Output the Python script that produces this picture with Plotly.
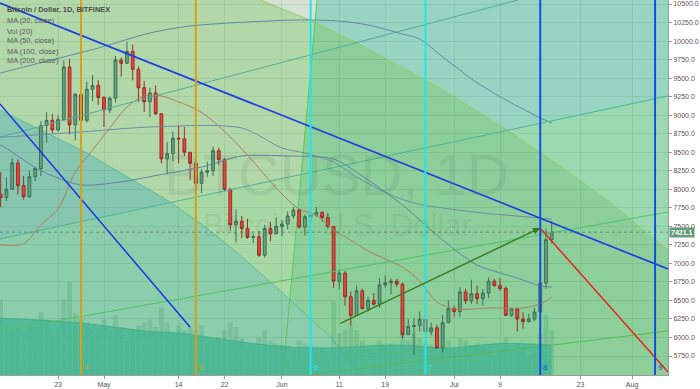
import pandas as pd
import plotly.graph_objects as go

# ---------------- data ----------------
dates = pd.date_range("2018-04-13", "2018-07-18", freq="D")

opens = [7930, 7890, 8000, 8355, 8050, 7900, 8170, 8280, 8860, 8930,
         8800, 8940, 9650, 8870, 9280, 8930, 9350, 9400,
         9240, 9070, 9230, 9745, 9700, 9860, 9620, 9370, 9180, 9300,
         9020, 8410, 8480, 8690, 8680, 8500, 8350, 8080, 8230, 8250,
         8520, 8400, 8000, 7520, 7570, 7470, 7350, 7360, 7110, 7470, 7400,
         7500, 7530, 7640, 7720, 7490, 7630, 7650, 7690, 7620, 7500,
         6760, 6870, 6550, 6300, 6630, 6390, 6500, 6450, 6710, 6740,
         6760, 6720, 6040, 6150, 6160, 6245, 6080, 6130, 5860, 6200,
         6390, 6350, 6615, 6495, 6590, 6525, 6600, 6760, 6700, 6660,
         6300, 6385, 6250, 6215, 6250, 6345, 6735, 7320]
highs = [8230, 8160, 8420, 8400, 8180, 8250, 8300, 8920, 9040, 9020,
         9000, 9740, 9760, 9300, 9400, 9450, 9540, 9470,
         9250, 9250, 9800, 9780, 9990, 9950, 9660, 9460, 9370, 9400,
         9020, 8640, 8780, 8860, 8840, 8500, 8480, 8270, 8370, 8580,
         8560, 8420, 8020, 7730, 7640, 7600, 7400, 7440, 7520, 7560, 7620,
         7580, 7700, 7760, 7740, 7660, 7700, 7760, 7700, 7680, 7500,
         6920, 6900, 6620, 6700, 6660, 6550, 6600, 6800, 6840, 6800,
         6790, 6740, 6250, 6260, 6350, 6280, 6200, 6170, 6300, 6500,
         6430, 6680, 6660, 6780, 6700, 6650, 6810, 6790, 6800, 6690,
         6400, 6400, 6340, 6320, 6400, 6760, 7470, 7570]
lows = [7760, 7840, 7990, 7930, 7860, 7880, 8110, 8180, 8630, 8760,
        8780, 8920, 8740, 8660, 8920, 8900, 9190, 9140,
        8840, 9030, 9170, 9520, 9690, 9470, 9180, 9040, 8970, 9000,
        8350, 8200, 8380, 8350, 8450, 8120, 8040, 7950, 8170, 8180,
        8330, 7970, 7440, 7280, 7340, 7330, 7270, 7090, 7080, 7300, 7400,
        7370, 7460, 7600, 7470, 7380, 7520, 7630, 7560, 7470, 6670,
        6650, 6430, 6150, 6300, 6380, 6350, 6430, 6400, 6670, 6580,
        6680, 5990, 6030, 5765, 6080, 6050, 6030, 5850, 5800, 6190,
        6280, 6280, 6450, 6450, 6450, 6430, 6530, 6680, 6630, 6290,
        6280, 6080, 6120, 6200, 6220, 6330, 6660, 7270]
closes = [7890, 8000, 8355, 8050, 7900, 8170, 8280, 8860, 8930, 8800,
          8940, 9650, 8870, 9280, 8930, 9350, 9400, 9240,
          9070, 9230, 9745, 9700, 9860, 9620, 9370, 9180, 9300, 9020,
          8410, 8480, 8690, 8680, 8500, 8350, 8080, 8230, 8250, 8520,
          8400, 8000, 7520, 7570, 7470, 7350, 7360, 7110, 7470, 7400, 7500,
          7530, 7640, 7720, 7490, 7630, 7650, 7690, 7620, 7500, 6760,
          6870, 6550, 6300, 6630, 6390, 6500, 6450, 6710, 6740, 6760,
          6720, 6040, 6150, 6160, 6245, 6080, 6130, 5860, 6200, 6390,
          6350, 6615, 6495, 6590, 6525, 6600, 6760, 6700, 6660, 6300,
          6385, 6250, 6215, 6250, 6345, 6735, 7320, 7421.1]
volume = [50, 33, 30, 32, 30, 33, 37, 42, 37, 27,
          32, 50, 62, 41, 37, 35, 30, 32, 37, 30,
          40, 32, 25, 30, 33, 35, 37, 32, 45, 35,
          28, 33, 30, 32, 30, 33, 21, 23, 25, 30,
          35, 32, 25, 19, 17, 25, 30, 23, 21, 20,
          19, 17, 23, 21, 20, 19, 17, 16, 49, 28,
          30, 32, 30, 23, 17, 15, 23, 20, 21, 17,
          43, 23, 28, 25, 21, 20, 25, 35, 23, 15,
          25, 23, 20, 21, 19, 17, 13, 17, 25, 20,
          21, 19, 13, 15, 28, 40, 30]

volma_dates = ["2018-04-12", "2018-04-26", "2018-05-09", "2018-05-14", "2018-05-23",
               "2018-06-01", "2018-06-09", "2018-06-21", "2018-06-30", "2018-07-09", "2018-07-18"]
volma_vals = [38, 35, 29, 28, 23, 19, 18, 20, 18, 21, 20]

ma20_dates = ["2018-04-12", "2018-04-13", "2018-04-17", "2018-04-20", "2018-04-23", "2018-04-26",
              "2018-04-29", "2018-05-02", "2018-05-05", "2018-05-08", "2018-05-11", "2018-05-14",
              "2018-05-17", "2018-05-20", "2018-05-23", "2018-05-26", "2018-05-29", "2018-06-01",
              "2018-06-04", "2018-06-07", "2018-06-10", "2018-06-13", "2018-06-16", "2018-06-19",
              "2018-06-22", "2018-06-25", "2018-06-28", "2018-07-01", "2018-07-04", "2018-07-07",
              "2018-07-10", "2018-07-13", "2018-07-16", "2018-07-18"]
ma20_vals = [7245, 7248, 7262, 7518, 7734, 8233, 8530, 8827, 9110, 9259, 9259, 9178,
             9083, 8921, 8705, 8462, 8193, 7936, 7734, 7653, 7450, 7315, 7167, 7059,
             6951, 6762, 6479, 6384, 6384, 6398, 6398, 6398, 6452, 6546]

ma50_dates = ["2018-04-12", "2018-04-13", "2018-04-20", "2018-04-27", "2018-05-04", "2018-05-11",
              "2018-05-18", "2018-05-25", "2018-06-02", "2018-06-10", "2018-06-16", "2018-06-22",
              "2018-06-29", "2018-07-05", "2018-07-12", "2018-07-16", "2018-07-18"]
ma50_vals = [8610, 8597, 8250, 8060, 8100, 8200, 8300, 8449, 8449, 8408, 8125, 7788,
             7315, 6978, 6803, 6695, 6681]

ma100_dates = ["2018-04-12", "2018-04-13", "2018-04-27", "2018-05-09", "2018-05-25", "2018-06-01",
               "2018-06-05", "2018-06-10", "2018-06-14", "2018-06-20", "2018-06-24", "2018-06-29",
               "2018-07-06", "2018-07-16", "2018-07-18"]
ma100_vals = [8710, 8705, 8773, 8840, 8827, 8557, 8489, 8368, 8166, 7923, 7815, 7747,
              7680, 7612, 7599]

ma200_dates = ["2018-04-12", "2018-04-13", "2018-04-30", "2018-05-09", "2018-05-16", "2018-05-26",
               "2018-06-04", "2018-06-11", "2018-06-16", "2018-06-22", "2018-06-25", "2018-06-29",
               "2018-07-02", "2018-07-04", "2018-07-10", "2018-07-13", "2018-07-16", "2018-07-18"]
ma200_vals = [9545, 9569, 9906, 10109, 10203, 10257, 10284, 10270, 10217, 10095, 10028, 9785,
              9609, 9488, 9205, 9083, 8962, 8894]

x_tickvals = ["2018-04-23", "2018-05-01", "2018-05-14", "2018-05-22", "2018-06-01", "2018-06-11",
              "2018-06-19", "2018-07-01", "2018-07-09", "2018-07-23", "2018-08-01"]
x_ticktext = ["23", "May", "14", "22", "Jun", "11", "19", "Jul", "9", "23", "Aug"]
y_tickvals = [5750, 6000, 6250, 6500, 6750, 7000, 7250, 7500, 7750, 8000, 8250, 8500,
              8750, 9000, 9250, 9500, 9750, 10000, 10250, 10500]

last_price = 7421.1

legend_lines = ["Bitcoin / Dollar, 1D, BITFINEX", "MA (20, close)", "Vol (20)",
                "MA (50, close)", "MA (100, close)", "MA (200, close)"]

# visible window
XL, XR = "2018-04-12 21:10", "2018-08-07 06:12"
YB, YT = 5494, 10554

# drawings (date, price)
cycle_dates = ["2018-04-27", "2018-05-17", "2018-06-06", "2018-06-26", "2018-07-16", "2018-08-05"]
cycle_labels = ["4", "5", "6", "7", "8", "9"]

blue_trend = [(XL, 10513), (XR, 6924)]
blue_short = [(XL, 9151), ("2018-05-15 23:30", 6142)]
red_trend = [("2018-07-16 03:00", 7464), (XR, 5534)]
channel_a = [(XL, 8705), ("2018-07-12 03:00", YT)]
channel_b = [(XL, 7329), (XR, 9259)]
channel_c = [(XL, 6088), (XR, 7693)]
channel_d = [("2018-06-02 10:00", 5467), (XR, 6088)]
fan_ray = [("2018-06-07 03:00", YT), ("2018-06-01 04:00", YB)]
arrow_tail = ("2018-06-10 22:30", 6182)
arrow_tip = ("2018-07-15 23:00", 7477)

arc_upper = [("2018-05-28 04:00", YT), ("2018-06-05 21:00", 10284), ("2018-06-14 02:00", 9974),
             ("2018-06-28 13:00", 9366), ("2018-07-10 05:00", 8800), ("2018-07-15 23:00", 8503),
             ("2018-07-27 15:00", 7855), (XR, 7180)]
arc_lower = [(XL, 9070), ("2018-04-27 17:00", 8503), ("2018-05-11 23:30", 7855),
             ("2018-05-17 17:00", 7545), ("2018-05-23 11:00", 7194), ("2018-05-29 10:00", 6789),
             ("2018-06-04 04:00", 6384), ("2018-06-09 09:00", 6006), ("2018-06-14 14:00", 5521),
             ("2018-06-14 23:00", YB)]

zone_grey = [("2018-05-28 04:00", YT), ("2018-06-07 03:00", YT), ("2018-06-06 18:00", 10257),
             ("2018-06-05 21:00", 10284)]
zone_teal = [("2018-06-07 03:00", YT), (XR, YT), (XR, 9259), ("2018-07-10 05:00", 8800),
             ("2018-06-28 13:00", 9366), ("2018-06-14 02:00", 9974), ("2018-06-06 18:00", 10257)]
zone_mint = [("2018-07-10 05:00", 8800), (XR, 9259), (XR, 7180), ("2018-07-27 15:00", 7855),
             ("2018-07-15 23:00", 8503)]
zone_green = [("2018-06-06 18:00", 10257), ("2018-06-14 02:00", 9974), ("2018-06-28 13:00", 9366),
              ("2018-07-10 05:00", 8800), ("2018-07-15 23:00", 8503), ("2018-07-27 15:00", 7855),
              (XR, 7180), (XR, YB), ("2018-06-01 04:00", YB)]
zone_light = [("2018-05-12 12:00", 7828), ("2018-06-04 08:00", 8192), ("2018-06-02 10:00", 6533),
              ("2018-05-29 10:00", 6789), ("2018-05-23 11:00", 7194), ("2018-05-17 17:00", 7545)]
zone_lower = arc_lower + [(XL, YB)]
zone_lower_top = [(XL, 9070), ("2018-04-27 17:00", 8503), ("2018-05-11 23:30", 7855),
                  ("2018-05-12 12:00", 7828), (XL, 7329)]

# ---------------- helpers ----------------
T0, T1 = pd.Timestamp(XL), pd.Timestamp(XR)


def to_paper(pts):
    out = []
    for d, p in pts:
        fx = (pd.Timestamp(d) - T0) / (T1 - T0)
        fy = (p - YB) / (YT - YB)
        out.append((fx, fy))
    return out


def make_path(pts, close=True):
    pp = to_paper(pts)
    s = "M " + " L ".join(f"{x:.5f},{y:.5f}" for x, y in pp)
    return s + (" Z" if close else "")


FONT = "Liberation Sans, Arial, sans-serif"

fig = go.Figure()

# volume MA area + volume bars (main y axis)
fig.add_trace(go.Scatter(x=volma_dates, y=volma_vals, yaxis="y", mode="lines",
                         fill="tozeroy", fillcolor="rgba(62,180,146,0.72)",
                         line=dict(color="rgba(60,170,140,0.8)", width=1, shape="spline"),
                         hoverinfo="skip"))
fig.add_trace(go.Bar(x=dates, y=volume, yaxis="y",
                     marker=dict(color="rgba(40,140,110,0.2)", line=dict(width=0)),
                     hoverinfo="skip"))

# moving averages
for xs, ys, col in [(ma200_dates, ma200_vals, "#6289a6"),
                    (ma100_dates, ma100_vals, "#6a8fa8"),
                    (ma50_dates, ma50_vals, "#5f86a4"),
                    (ma20_dates, ma20_vals, "#b07f5c")]:
    fig.add_trace(go.Scatter(x=xs, y=ys, yaxis="y2", mode="lines",
                             line=dict(color=col, width=1, shape="spline", smoothing=0.8),
                             hoverinfo="skip"))

fig.add_trace(go.Candlestick(
    x=dates, open=opens, high=highs, low=lows, close=closes, yaxis="y2",
    increasing=dict(fillcolor="#64a27f", line=dict(color="#3f6e55", width=1)),
    decreasing=dict(fillcolor="#e6463b", line=dict(color="#9c2d24", width=1)),
    whiskerwidth=0, hoverinfo="skip"))

shapes = []
# background zones
for pts, col in [(zone_grey, "#d6e1d6"), (zone_teal, "#97d4c2"), (zone_mint, "#9bdab0"),
                 (zone_green, "#8ccf9a"), (zone_light, "#a8d9a5"), (zone_lower, "#8ccdab"),
                 (zone_lower_top, "#87c6b0")]:
    shapes.append(dict(type="path", xref="paper", yref="paper", path=make_path(pts),
                       fillcolor=col, line=dict(width=0), layer="below"))
shapes.append(dict(type="path", xref="paper", yref="paper", path=make_path(arc_upper, False),
                   line=dict(color="#96cc66", width=1), layer="below"))
shapes.append(dict(type="path", xref="paper", yref="paper", path=make_path(arc_lower[:-1], False),
                   line=dict(color="#5fbf9c", width=1), layer="below"))


def seg(pts, color, width, layer="above"):
    (a, pa), (b, pb) = pts
    return dict(type="line", xref="x", yref="y2", x0=a, y0=pa, x1=b, y1=pb,
                line=dict(color=color, width=width), layer=layer)


shapes.append(seg(fan_ray, "#5cc85c", 1, "below"))
shapes.append(seg(channel_a, "#58ab98", 1))
shapes.append(seg(channel_b, "#4cb596", 1))
shapes.append(seg(channel_c, "#52c06a", 1))
shapes.append(seg(channel_d, "#58b858", 1))
shapes.append(dict(type="line", xref="x", yref="y2", x0=XL, x1=XR, y0=last_price, y1=last_price,
                   line=dict(color="rgba(70,90,80,0.55)", width=1, dash="dot"), layer="above"))
shapes.append(seg(blue_trend, "#1d3fe0", 1.7))
shapes.append(seg(blue_short, "#1530e8", 1.4))
shapes.append(seg(red_trend, "#f01818", 1.4))

cycle_colors = ["#d6a01c", "#d6a01c", "#22e6ee", "#22e6ee", "#1450e0", "#1450e0"]
for d, c in zip(cycle_dates, cycle_colors):
    shapes.append(dict(type="line", xref="x", yref="paper", x0=d, x1=d, y0=0, y1=1,
                       line=dict(color=c, width=2), layer="above"))

annotations = []
# watermark
annotations.append(dict(xref="paper", yref="paper", x=0.503, y=0.536, text="BTCUSD, 1D",
                        showarrow=False, font=dict(family=FONT, size=58, color="rgba(70,95,80,0.11)")))
annotations.append(dict(xref="paper", yref="paper", x=0.505, y=0.40, text="Bitcoin / U.S. Dollar",
                        showarrow=False, font=dict(family=FONT, size=31, color="rgba(70,95,80,0.11)")))
# legend text
leg_y = [10, 20, 31, 41, 51, 61]
for i, (t, yy) in enumerate(zip(legend_lines, leg_y)):
    annotations.append(dict(xref="paper", yref="paper", x=0.008, y=1 - yy / 375,
                            xanchor="left", yanchor="middle", showarrow=False,
                            text=f"<b>{t}</b>" if i == 0 else t,
                            font=dict(family=FONT, size=7.4, color="#4d4d4d" if i == 0 else "#5a5a5a")))
# cycle labels
for d, c, lab in zip(cycle_dates, cycle_colors, cycle_labels):
    annotations.append(dict(xref="x", yref="paper", x=d, y=0.004, xanchor="left", yanchor="bottom",
                            xshift=1, showarrow=False, text=lab,
                            font=dict(family=FONT, size=8, color=c)))
# arrow
annotations.append(dict(xref="x", yref="y2", x=arrow_tip[0], y=arrow_tip[1],
                        axref="x", ayref="y2", ax=arrow_tail[0], ay=arrow_tail[1],
                        showarrow=True, arrowhead=2, arrowsize=1, arrowwidth=1.4,
                        arrowcolor="#3d7a1c", text=""))
# last price label
annotations.append(dict(xref="paper", yref="y2", x=1, y=last_price, xanchor="left", xshift=1,
                        showarrow=False, text=f"<b>{last_price:.1f}</b>", bgcolor="#629d7c",
                        borderpad=1, font=dict(family=FONT, size=7, color="white")))

GRID = "rgba(40,90,70,0.10)"
fig.update_layout(
    width=700, height=389,
    margin=dict(l=0, r=32, t=0, b=14),
    paper_bgcolor="white", plot_bgcolor="#b2d8aa",
    showlegend=False, hovermode=False, dragmode=False,
    bargap=0.2,
    xaxis=dict(type="date", range=[XL, XR], rangeslider=dict(visible=False),
               tickvals=x_tickvals, ticktext=x_ticktext,
               tickfont=dict(family=FONT, size=7, color="#555"),
               ticks="outside", ticklen=3, tickcolor="#999",
               showgrid=True, gridcolor=GRID, gridwidth=1, zeroline=False,
               showline=True, linecolor="#9a9a9a", linewidth=1, mirror=True,
               automargin=False, fixedrange=True),
    yaxis=dict(range=[0, 250], visible=False, fixedrange=True, automargin=False),
    yaxis2=dict(overlaying="y", side="right", range=[YB, YT], tickvals=y_tickvals,
                tickformat=".1f", tickfont=dict(family=FONT, size=7, color="#555"),
                ticks="outside", ticklen=3, tickcolor="#999",
                showgrid=True, gridcolor=GRID, gridwidth=1, zeroline=False,
                showline=True, linecolor="#9a9a9a", linewidth=1, mirror=True,
                automargin=False, fixedrange=True),
    shapes=shapes, annotations=annotations,
)

fig.write_html("out.html", config={"displayModeBar": False},
               post_script="document.body.style.margin='0';document.body.style.overflow='hidden';")
